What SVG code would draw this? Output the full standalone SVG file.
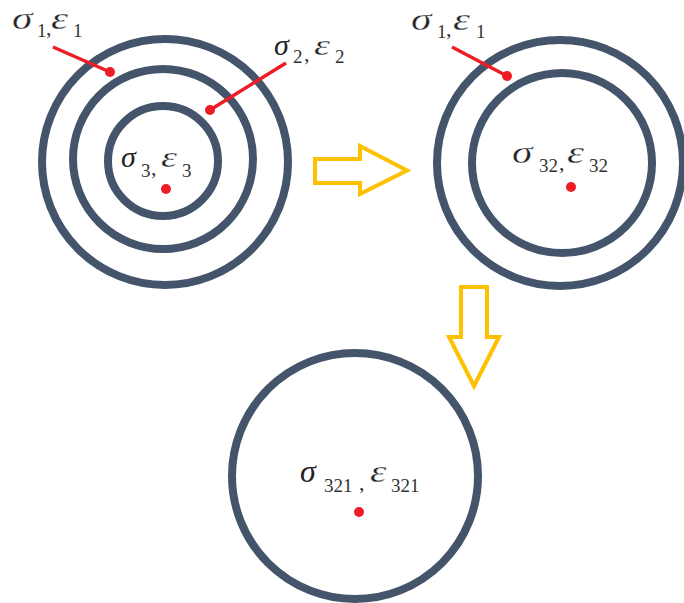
<svg xmlns="http://www.w3.org/2000/svg" width="684" height="603" viewBox="0 0 684 603">
<style>
.ring{fill:none;stroke:#44546A;stroke-width:8}
.dot{fill:#EE1C25}
.lead{stroke:#EE1C25;stroke-width:3.5;fill:none}
.arr{fill:none;stroke:#FFC000;stroke-width:4;stroke-linejoin:miter}
.g{font-family:"Liberation Serif",serif;font-style:italic;font-size:32px;fill:#222}
.gs{font-family:"Liberation Serif",serif;font-style:italic;font-size:30px;fill:#222}
.w{stroke:#fff;stroke-width:0.35px}
.s{font-family:"Liberation Serif",serif;font-style:normal;font-size:19px;fill:#333}
.c{font-family:"Liberation Serif",serif;font-style:normal;font-size:22px;fill:#333}
</style>
<rect width="684" height="603" fill="#fff"/>
<g id="node-left">
<circle class="ring" cx="165" cy="162" r="123"/>
<circle class="ring" cx="163" cy="159" r="90"/>
<circle class="ring" cx="163" cy="161" r="55"/>
<circle class="dot" cx="166" cy="189" r="5"/>
<text class="gs" transform="translate(121,167)">σ</text>
<text class="s" x="141" y="177">3</text>
<text class="c" x="151" y="175">,</text>
<text class="gs w" transform="translate(161,167) scale(1.35,1)">ε</text>
<text class="s" x="182" y="177">3</text>
</g>
<g id="node-right">
<circle class="ring" cx="560" cy="163" r="123"/>
<circle class="ring" cx="562" cy="163" r="90"/>
<circle class="dot" cx="571" cy="187" r="5"/>
<text class="g w" transform="translate(512,163) scale(1.3,1)">σ</text>
<text class="s" x="539" y="172">32</text>
<text class="c" x="559" y="170">,</text>
<text class="g w" transform="translate(567,163) scale(1.35,1)">ε</text>
<text class="s" x="589" y="172">32</text>
</g>
<g id="node-bottom">
<circle class="ring" cx="355" cy="476" r="123"/>
<circle class="dot" cx="359" cy="512" r="5"/>
<text class="g" transform="translate(300,482)">σ</text>
<text class="s" x="324" y="492">321</text>
<text class="c" x="359" y="490">,</text>
<text class="g w" transform="translate(370,482) scale(1.3,1)">ε</text>
<text class="s" x="391" y="492">321</text>
</g>
<g id="labels">
<text class="g w" transform="translate(12,29) scale(1.3,1)">σ</text>
<text class="s" x="37" y="37">1</text>
<text class="c" x="46" y="35">,</text>
<text class="g w" transform="translate(51,29) scale(1.35,1)">ε</text>
<text class="s" x="73" y="37">1</text>
<text class="gs" transform="translate(274,55)">σ</text>
<text class="s" x="293" y="63">2</text>
<text class="c" x="304" y="61">,</text>
<text class="gs w" transform="translate(314,55) scale(1.35,1)">ε</text>
<text class="s" x="335" y="63">2</text>
<text class="g w" transform="translate(411,30) scale(1.3,1)">σ</text>
<text class="s" x="437" y="38">1</text>
<text class="c" x="446" y="36">,</text>
<text class="g w" transform="translate(453,30) scale(1.35,1)">ε</text>
<text class="s" x="476" y="38">1</text>
</g>
<g id="connectors">
<line class="lead" x1="53" y1="47" x2="110" y2="72"/>
<circle class="dot" cx="110" cy="72" r="5"/>
<line class="lead" x1="286" y1="63" x2="210" y2="110"/>
<circle class="dot" cx="210" cy="110" r="5"/>
<line class="lead" x1="452" y1="47" x2="507" y2="76"/>
<circle class="dot" cx="507" cy="76" r="5"/>
<path class="arr" d="M315,159 H360 V146 L407,170.5 L360,194 V183 H315 Z"/>
<path class="arr" d="M461,287 H487 V337 H499 L474,386 L449,337 H461 Z"/>
</g>
</svg>
